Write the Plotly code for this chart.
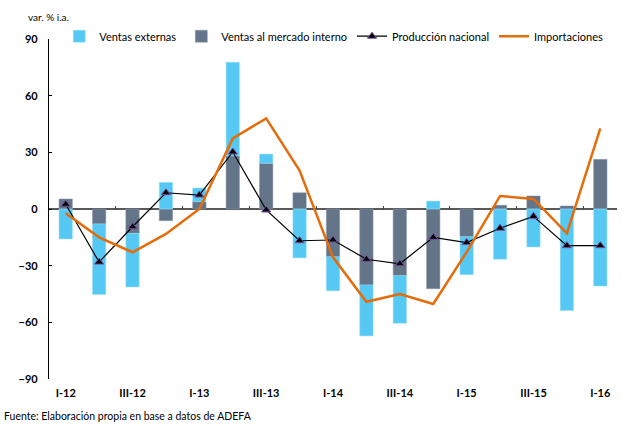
import plotly.graph_objects as go

quarters = ["I-12", "II-12", "III-12", "IV-12", "I-13", "II-13", "III-13", "IV-13",
            "I-14", "II-14", "III-14", "IV-14", "I-15", "II-15", "III-15", "IV-15", "I-16"]
tick_labels = ["I-12", "III-12", "I-13", "III-13", "I-14", "III-14", "I-15", "III-15", "I-16"]

ventas_internas = [5.3, -7.9, -12.9, -6.2, 3.9, 28.1, 24.2, 8.6,
                   -25.3, -40.2, -35.3, -42.2, -14.7, 2.0, 6.9, 1.6, 26.3]
ventas_externas = [-15.9, -37.3, -28.4, 14.1, 7.2, 49.6, 4.9, -25.9,
                   -18.0, -27.0, -25.2, 4.2, -20.1, -26.6, -20.1, -53.8, -40.8]
produccion = [2.5, -28.1, -9.4, 8.6, 7.4, 30.2, -0.5, -16.8,
              -16.4, -26.6, -29.0, -15.0, -17.8, -10.2, -3.9, -19.4, -19.4]
importaciones = [-2.3, -15.0, -22.9, -13.2, 0.0, 37.4, 48.0, 20.3,
                 -25.6, -49.1, -45.0, -50.3, -22.8, 6.9, 5.3, -12.9, 42.7]

FONT = "Lato"
BLUE = "#55C8F3"
GREY = "#647489"
ORANGE = "#E46C0A"

idx = list(range(len(quarters)))

fig = go.Figure()

# gray goes first so it sits against zero, blue stacks on top of it
fig.add_trace(go.Bar(
    x=idx, y=ventas_internas, name="Ventas al mercado interno",
    marker=dict(color=GREY, line=dict(color="#8A98AA", width=0.5)),
    width=0.4, legendrank=2,
))
fig.add_trace(go.Bar(
    x=idx, y=ventas_externas, name="Ventas externas",
    marker=dict(color=BLUE, line=dict(color="#9FE0F8", width=0.5)),
    width=0.4, legendrank=1,
))
fig.add_trace(go.Scatter(
    x=idx, y=produccion, name="Producción nacional", mode="lines+markers",
    line=dict(color="black", width=1.2),
    marker=dict(symbol="triangle-up", size=8, color="black",
                line=dict(color="#7A4FA0", width=1)),
    legendrank=3,
))
fig.add_trace(go.Scatter(
    x=idx, y=importaciones, name="Importaciones", mode="lines",
    line=dict(color=ORANGE, width=2.5),
    legendrank=4,
))

fig.update_layout(
    width=624, height=426,
    barmode="relative",
    plot_bgcolor="white", paper_bgcolor="white",
    margin=dict(l=49, r=7, t=39, b=47, autoexpand=False),
    font=dict(family=FONT, size=11, color="black"),
    legend=dict(orientation="h", xref="container", yref="container",
                x=0.095, y=0.915, xanchor="left", yanchor="middle",
                font=dict(size=11), itemwidth=30, traceorder="normal",
                tracegroupgap=0, bgcolor="rgba(0,0,0,0)"),
    xaxis=dict(
        range=[-0.5, len(quarters) - 0.5],
        tickvals=idx[::2], ticktext=tick_labels,
        showgrid=False, zeroline=False, showline=False, ticks="",
        tickfont=dict(family=FONT, size=11, color="black", weight="bold"),
        ticklabelstandoff=6,
    ),
    # tick marks along the zero line between category pairs
    xaxis2=dict(
        overlaying="x", anchor="free", position=0.5, side="bottom",
        range=[-0.5, len(quarters) - 0.5],
        tickvals=[i + 0.5 for i in idx[1:-1:2]],
        ticks="inside", ticklen=3, tickcolor="#404040", tickwidth=1,
        showticklabels=False, showgrid=False, zeroline=False, showline=False,
    ),
    yaxis=dict(
        range=[-90, 90], tickvals=[-90, -60, -30, 0, 30, 60, 90],
        showgrid=False, zeroline=True, zerolinecolor="#595959", zerolinewidth=1.5,
        showline=True, linecolor="black", linewidth=1.2,
        ticks="inside", ticklen=3, tickcolor="black",
        tickfont=dict(family=FONT, size=11, color="black", weight="bold"),
        ticklabelstandoff=8,
    ),
)

fig.add_trace(go.Scatter(x=[0], y=[0], xaxis="x2", mode="markers",
                         marker=dict(opacity=0), showlegend=False, hoverinfo="skip"))

fig.add_annotation(text="var. % i.a.", xref="paper", yref="paper",
                   x=-0.04, y=1.065, xanchor="left", yanchor="middle",
                   showarrow=False, font=dict(family=FONT, size=10, color="black"))
fig.add_annotation(text="Fuente: Elaboración propia en base a datos de ADEFA",
                   xref="paper", yref="paper", x=-0.082, y=-0.108,
                   xanchor="left", yanchor="middle", showarrow=False,
                   font=dict(family=FONT, size=10.5, color="black"))

fig.write_html("out.html", config={"displayModeBar": False},
               post_script="document.body.style.margin='0';")
